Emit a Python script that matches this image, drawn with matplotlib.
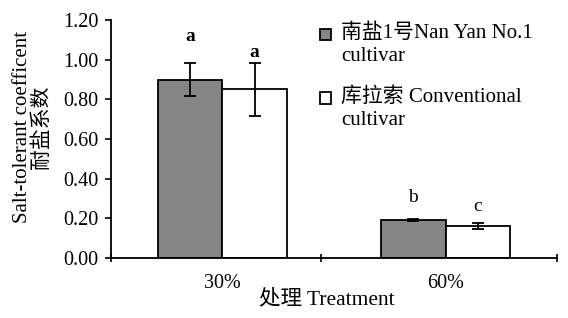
import matplotlib
matplotlib.use("Agg")
import matplotlib.pyplot as plt
import numpy as np
from matplotlib.patches import Rectangle

plt.rcParams['font.family'] = ['Liberation Serif', 'Noto Sans CJK SC']

# data
treatments = ["30%", "60%"]
nanyan = [0.90, 0.19]
nanyan_err = [0.085, 0.005]
conventional = [0.85, 0.16]
conventional_err = [0.135, 0.015]
nanyan_letters = ["a", "b"]
conventional_letters = ["a", "c"]
series_names = ["南盐1号Nan Yan No.1\ncultivar", "库拉索 Conventional\ncultivar"]

# layout of letter labels (data y)
nanyan_letter_y = [1.115, 0.303]
conventional_letter_y = [1.034, 0.257]

fig = plt.figure(figsize=(5.68, 3.18), dpi=100)
ax = fig.add_axes([0.195, 0.189, 0.786, 0.748])

x = np.arange(len(treatments))
w = 0.29
ax.bar(x - w / 2, nanyan, w, color='#858585', edgecolor='black', linewidth=1.3,
       yerr=nanyan_err, capsize=4, error_kw=dict(elinewidth=1.3, capthick=1.3))
ax.bar(x + w / 2, conventional, w, color='white', edgecolor='black', linewidth=1.3,
       yerr=conventional_err, capsize=4, error_kw=dict(elinewidth=1.3, capthick=1.3))

for i in range(len(treatments)):
    ax.text(x[i] - w / 2, nanyan_letter_y[i], nanyan_letters[i], ha='center', va='center',
            fontsize=14, fontweight='bold' if i == 0 else 'normal')
    ax.text(x[i] + w / 2, conventional_letter_y[i], conventional_letters[i], ha='center', va='center',
            fontsize=14, fontweight='bold' if i == 0 else 'normal')

ax.set_xlim(-0.5, 1.5)
ax.set_ylim(0, 1.2)
ax.set_yticks(np.arange(0, 1.21, 0.2))
ax.set_yticklabels([f"{v:.2f}" for v in np.arange(0, 1.21, 0.2)], fontsize=14.5)
ax.tick_params(axis='y', direction='out', length=4, width=1.2, pad=5)

ax.set_xticks([-0.5, 0.44, 1.5])
ax.set_xticklabels([])
ax.tick_params(axis='x', direction='inout', length=6, width=1.2)
for i, t in enumerate(treatments):
    ax.text(x[i], -0.13, t, ha='center', va='center', fontsize=14.5, transform=ax.transData)

for s in ['top', 'right']:
    ax.spines[s].set_visible(False)
for s in ['left', 'bottom']:
    ax.spines[s].set_linewidth(1.3)

fig.text(0.057, 0.60, "Salt-tolerant coefficent\n耐盐系数", rotation=90, ha='center', va='center',
         fontsize=15, multialignment='center', linespacing=1.05)
fig.text(0.576, 0.057, "处理 Treatment", ha='center', va='center', fontsize=15.5)

# legend
colors = ['#858585', 'white']
tops = [0.912, 0.712]
for c, top, name in zip(colors, tops, series_names):
    fig.add_artist(Rectangle((0.563, top - 0.038), 0.019, 0.036, transform=fig.transFigure,
                             facecolor=c, edgecolor='black', linewidth=1.3))
    fig.text(0.601, top + 0.015, name, ha='left', va='top', fontsize=15, linespacing=1.3)

fig.savefig("out.png", dpi=100)
